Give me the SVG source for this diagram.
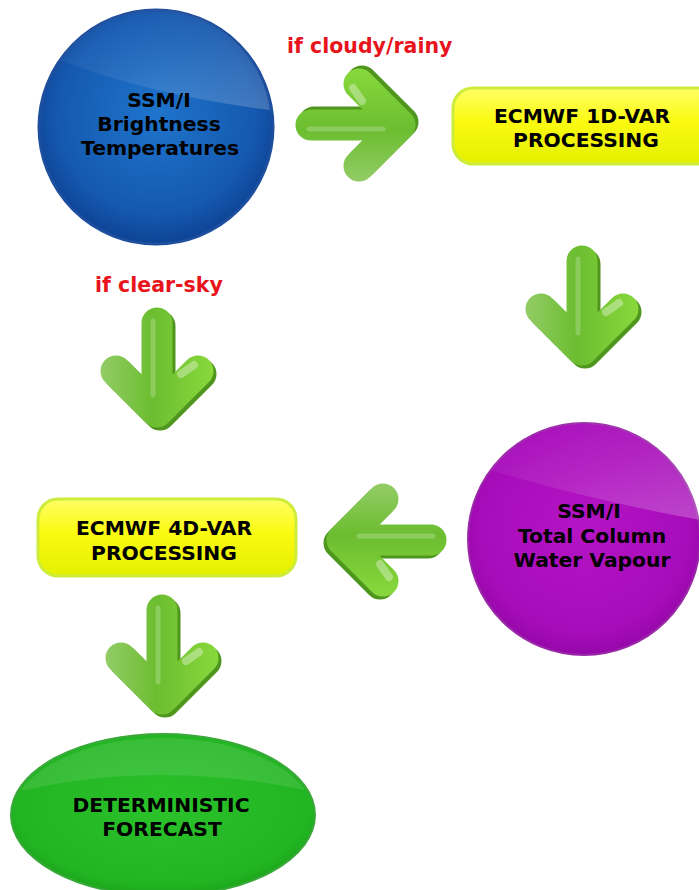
<svg xmlns="http://www.w3.org/2000/svg" xmlns:xlink="http://www.w3.org/1999/xlink" width="699" height="890" viewBox="0 0 699 890">
<style>
.lbl{font-family:"DejaVu Sans",Verdana,sans-serif;font-weight:bold;font-size:20.3px;fill:#000;text-anchor:middle}
.cond{font-family:"DejaVu Sans",Verdana,sans-serif;font-weight:bold;font-size:20.5px;fill:#e8141c}
.box{stroke:#cdec3c;stroke-width:3}
</style>
<defs>
<radialGradient id="gBlue" cx="0.5" cy="0.45" r="0.6">
<stop offset="0" stop-color="#1f74cc"/>
<stop offset="0.7" stop-color="#1559b0"/>
<stop offset="1" stop-color="#0b3a8a"/>
</radialGradient>
<radialGradient id="gPurple" cx="0.5" cy="0.45" r="0.6">
<stop offset="0" stop-color="#b414c4"/>
<stop offset="0.75" stop-color="#a80cba"/>
<stop offset="1" stop-color="#8c06a0"/>
</radialGradient>
<radialGradient id="gGreen" cx="0.5" cy="0.45" r="0.6">
<stop offset="0" stop-color="#2bc22b"/>
<stop offset="0.8" stop-color="#22b522"/>
<stop offset="1" stop-color="#169a16"/>
</radialGradient>
<linearGradient id="gYellow" x1="0" y1="0" x2="0" y2="1">
<stop offset="0" stop-color="#ffff66"/>
<stop offset="0.45" stop-color="#fafa10"/>
<stop offset="1" stop-color="#e4f000"/>
</linearGradient>
<linearGradient id="gloss" x1="0" y1="0" x2="1" y2="1">
<stop offset="0" stop-color="#fff" stop-opacity="0"/>
<stop offset="0.5" stop-color="#fff" stop-opacity="0.15"/>
<stop offset="1" stop-color="#fff" stop-opacity="0.4"/>
</linearGradient>
<linearGradient id="gArrow" gradientUnits="userSpaceOnUse" x1="-56" y1="0" x2="56" y2="0">
<stop offset="0" stop-color="#92cc66"/>
<stop offset="0.45" stop-color="#6cbd30"/>
<stop offset="1" stop-color="#88d83c"/>
</linearGradient>
<g id="arrow">
<path d="M3,19 L3,103 M-38,67 L3,108 L44,67" fill="none" stroke="#4f961e" stroke-width="31" stroke-linecap="round" stroke-linejoin="round"/>
<path d="M0,16 L0,100 M-41,64 L0,105 L41,64" fill="none" stroke="url(#gArrow)" stroke-width="31" stroke-linecap="round" stroke-linejoin="round"/>
<path d="M-4,14 L-4,88" fill="none" stroke="#ffffff" stroke-opacity="0.22" stroke-width="5" stroke-linecap="round"/>
<path d="M24,67 L37,58" fill="none" stroke="#ffffff" stroke-opacity="0.35" stroke-width="8" stroke-linecap="round"/>
</g>
</defs>
<rect width="699" height="890" fill="#fff"/>
<g id="connectors">
<use xlink:href="#arrow" transform="translate(295,125) rotate(-90)"/>
<use xlink:href="#arrow" transform="translate(582,245)"/>
<use xlink:href="#arrow" transform="translate(447,540) rotate(90)"/>
<use xlink:href="#arrow" transform="translate(157,307)"/>
<use xlink:href="#arrow" transform="translate(162,594)"/>
<text class="cond" x="287" y="53">if cloudy/rainy</text>
<text class="cond" x="95" y="292">if clear-sky</text>
</g>
<g id="node-ssmi-tb">
<circle cx="156" cy="127" r="117" fill="url(#gBlue)" stroke="#1d4f9e" stroke-width="3"/>
<path d="M60,60 Q150,95 270,110 A117,117 0 0 0 180,12 A117,117 0 0 0 60,60 Z" fill="url(#gloss)" opacity="0.5"/>
<text class="lbl" x="159" y="107">SSM/I</text>
<text class="lbl" x="159" y="131">Brightness</text>
<text class="lbl" x="160" y="155">Temperatures</text>
</g>
<g id="node-1dvar">
<rect x="453" y="88" width="270" height="76" rx="20" fill="url(#gYellow)" class="box"/>
<text class="lbl" x="582" y="123">ECMWF 1D-VAR</text>
<text class="lbl" x="586" y="147">PROCESSING</text>
</g>
<g id="node-ssmi-tcwv">
<circle cx="584" cy="539" r="116" fill="url(#gPurple)" stroke="#9a2aa8" stroke-width="2"/>
<path d="M490,470 Q590,500 700,520 A116,116 0 0 0 610,425 A116,116 0 0 0 490,470 Z" fill="url(#gloss)" opacity="0.6"/>
<text class="lbl" x="589" y="518">SSM/I</text>
<text class="lbl" x="592" y="543">Total Column</text>
<text class="lbl" x="592" y="567">Water Vapour</text>
</g>
<g id="node-4dvar">
<rect x="38" y="499" width="258" height="77" rx="20" fill="url(#gYellow)" class="box"/>
<text class="lbl" x="164" y="535">ECMWF 4D-VAR</text>
<text class="lbl" x="164" y="560">PROCESSING</text>
</g>
<g id="node-forecast">
<ellipse cx="163" cy="815" rx="152" ry="81" fill="url(#gGreen)" stroke="#3aa83a" stroke-width="2"/>
<path d="M25,790 Q160,760 305,790 A152,81 0 0 0 21,790 Z" fill="#fff" opacity="0.1"/>
<text class="lbl" x="161" y="812">DETERMINISTIC</text>
<text class="lbl" x="162" y="836">FORECAST</text>
</g>
</svg>
